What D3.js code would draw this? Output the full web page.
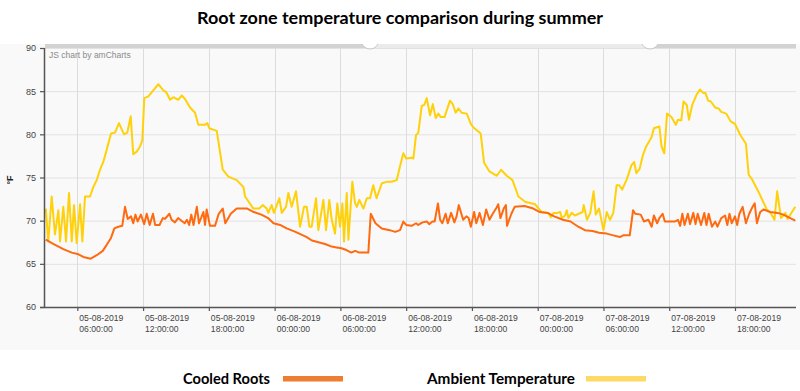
<!DOCTYPE html>
<html>
<head>
<meta charset="utf-8">
<script src="https://cdn.jsdelivr.net/npm/d3@7/dist/d3.min.js"></script>
<style>
  html, body { margin: 0; padding: 0; background: #ffffff; }
  svg { display: block; }
</style>
</head>
<body>
<svg id="chart" width="800" height="391"></svg>
<script>
// ---------------- DATA ----------------
const chartTitle = "Root zone temperature comparison during summer";
const yAxisTitle = "°F";
const seriesNames = ["Cooled Roots", "Ambient Temperature"];
const yTicks = [60, 65, 70, 75, 80, 85, 90];
const xTickDates = ["2019-08-05T06:00", "2019-08-05T12:00", "2019-08-05T18:00",
  "2019-08-06T00:00", "2019-08-06T06:00", "2019-08-06T12:00", "2019-08-06T18:00",
  "2019-08-07T00:00", "2019-08-07T06:00", "2019-08-07T12:00", "2019-08-07T18:00"];
const xDomain = ["2019-08-05T03:03", "2019-08-07T23:34"];
const baseDate = "2019-08-05T00:00";

// hours since 05-08-2019 00:00
const ambientHours = [3.12,3.35,3.66,3.96,4.27,4.42,4.72,4.97,5.24,5.49,5.70,5.94,6.25,6.46,6.70,7.16,7.46,7.77,8.07,8.37,
  8.68,9.07,9.44,9.80,10.26,10.56,10.87,11.10,11.42,11.72,11.93,12.11,12.48,12.93,13.39,13.85,14.10,14.46,14.77,15.20,
  15.53,15.83,16.28,16.74,17.04,17.65,17.86,18.04,18.72,19.27,19.78,20.54,21.15,21.30,22.06,22.60,22.92,23.28,23.43,23.73,
  23.94,24.43,24.65,25.04,25.25,25.56,25.95,26.32,26.68,26.93,27.17,27.38,27.78,27.99,28.20,28.45,28.69,28.99,29.21,29.51,
  29.72,29.97,30.18,30.33,30.58,30.73,31.09,31.34,31.50,31.73,32.10,32.41,32.70,33.00,33.30,33.77,34.20,34.66,35.14,35.44,
  35.74,35.99,36.51,36.66,36.90,37.11,37.42,37.65,37.88,38.18,38.43,38.70,38.94,39.16,39.50,40.00,40.25,40.52,40.76,41.06,
  41.53,41.90,42.14,42.80,43.11,43.60,44.27,44.66,45.18,45.70,46.24,46.85,47.76,48.37,48.98,49.20,49.45,49.80,50.06,50.20,
  50.50,50.65,50.80,51.10,51.40,51.75,52.10,52.20,52.50,52.80,53.10,53.30,53.60,54.00,54.30,54.60,54.90,55.20,55.45,55.70,
  56.10,56.55,56.80,57.00,57.30,57.60,57.90,58.40,58.60,59.10,59.30,59.55,59.80,60.20,60.60,60.80,61.10,61.30,61.60,61.80,
  62.10,62.50,62.80,63.10,63.30,63.55,63.80,64.20,64.50,64.75,65.20,65.60,66.00,66.50,67.00,67.25,67.55,68.20,68.90,69.20,
  69.60,69.85,70.20,70.60,70.80,71.50];
const ambientTemps = [71.4,67.6,72.8,68.4,71.2,67.6,71.6,67.6,73.2,67.6,71.8,67.4,71.9,67.6,72.8,72.8,73.9,74.7,75.9,76.8,
  78.2,80.1,80.2,81.3,80.0,80.2,82.1,77.7,78.0,78.6,79.3,84.2,84.4,85.1,85.8,85.1,84.9,84.0,84.3,84.0,
  84.5,84.1,83.1,82.5,81.1,81.1,81.3,80.7,80.4,75.9,75.1,74.7,73.9,72.8,71.4,71.4,71.8,71.4,70.9,71.8,
  70.9,72.6,70.9,71.6,73.2,71.6,73.4,69.3,71.6,71.6,69.3,69.3,72.6,68.9,70.5,72.4,68.9,72.4,70.1,68.5,
  72.0,69.3,72.0,67.6,73.2,67.8,74.5,72.0,71.6,72.4,71.4,72.6,72.6,74.1,72.6,74.3,74.5,74.5,74.7,76.3,
  77.8,77.2,77.3,77.2,79.9,80.2,83.3,83.4,84.2,82.2,83.5,81.9,82.4,82.0,82.0,83.9,83.5,82.5,83.0,82.5,
  82.4,81.2,80.8,80.1,76.7,75.7,75.2,75.9,75.2,74.7,72.8,72.2,71.9,71.0,70.9,70.4,70.9,70.9,71.0,70.3,
  70.6,71.2,70.3,70.9,70.6,70.8,71.0,71.8,70.1,70.9,73.4,70.7,71.4,68.9,71.0,70.1,70.9,74.1,74.1,73.6,
  74.7,76.4,76.8,75.5,76.0,77.6,78.6,79.7,80.7,80.9,78.6,77.8,82.4,82.0,81.1,81.7,81.6,83.8,83.4,81.7,
  83.4,84.6,85.2,84.8,84.8,83.9,83.8,83.1,83.0,82.6,82.4,81.5,81.2,79.9,78.9,75.3,74.8,73.2,71.3,71.0,
  70.1,73.4,70.3,70.9,70.2,71.6];

const cooledHours = [3.12,3.80,4.72,5.49,6.10,6.55,7.22,7.77,8.32,8.68,9.07,9.38,9.74,10.10,10.35,10.60,10.90,11.10,11.30,11.50,
  11.80,12.10,12.33,12.60,12.90,13.10,13.50,13.80,14.00,14.40,14.60,14.90,15.20,15.50,15.80,16.00,16.20,16.40,16.60,16.90,
  17.10,17.50,17.65,17.80,18.10,18.56,18.90,19.27,19.50,20.00,20.54,21.50,22.10,22.80,23.40,23.90,24.50,25.10,25.90,26.93,
  27.40,28.00,28.60,29.20,29.65,30.10,30.55,31.00,31.35,31.73,32.55,32.77,33.20,33.77,34.50,35.00,35.44,35.74,36.00,36.50,
  36.90,37.10,37.50,37.90,38.10,38.40,38.60,38.90,39.10,39.30,39.60,39.80,40.10,40.40,40.60,40.80,41.20,41.50,41.70,41.90,
  42.20,42.40,42.70,43.00,43.30,43.60,43.90,44.20,44.40,44.60,44.90,45.10,45.20,45.60,45.90,46.80,47.60,48.20,48.90,49.50,
  50.30,51.00,51.70,52.30,53.00,53.60,54.30,54.90,55.50,55.80,56.40,56.70,56.90,57.40,57.70,58.10,58.40,58.60,58.90,59.10,
  59.40,59.60,60.50,60.80,61.00,61.20,61.40,61.70,61.90,62.20,62.40,62.60,62.90,63.20,63.40,63.60,63.90,64.20,64.40,64.75,
  65.10,65.30,65.50,65.70,66.00,66.20,66.40,66.70,67.00,67.30,67.60,67.80,68.00,68.30,68.60,69.20,69.90,70.40,71.50];
const cooledTemps = [67.8,67.3,66.7,66.3,66.1,65.8,65.6,66.0,66.5,67.2,68.0,69.1,69.3,69.4,71.6,70.2,70.5,69.7,70.7,69.9,
  70.7,69.6,70.8,69.5,70.8,69.5,69.5,70.3,70.2,70.8,70.1,69.8,70.3,70.0,69.7,70.1,69.5,70.7,69.5,71.6,
  69.7,71.0,69.5,71.3,69.4,69.4,70.8,71.4,69.7,70.8,71.4,71.4,71.0,70.7,70.3,69.7,69.5,69.1,68.7,68.1,
  67.7,67.5,67.3,67.0,66.9,66.8,66.6,66.3,66.5,66.3,66.3,70.8,69.7,69.1,68.9,68.7,68.9,69.9,69.5,69.4,
  69.7,69.5,69.8,69.9,69.6,69.9,69.9,72.0,70.1,69.7,70.8,69.7,70.9,69.8,70.5,71.8,70.1,70.5,70.3,69.3,
  71.0,69.7,70.9,69.5,71.3,70.1,70.8,71.4,71.9,70.3,71.4,71.8,69.4,70.8,71.6,71.7,71.4,71.0,70.9,70.5,
  70.1,69.9,69.3,68.9,68.8,68.6,68.5,68.3,68.1,68.3,68.3,71.2,70.8,70.7,69.9,70.1,69.3,70.6,69.7,70.3,
  70.8,69.9,69.9,70.1,69.4,70.8,69.5,70.8,69.6,70.9,69.6,70.8,69.5,70.9,69.5,70.8,69.3,69.9,69.3,70.3,
  70.6,69.5,70.8,69.7,70.5,69.5,70.8,71.6,69.7,70.8,71.6,72.0,69.7,71.0,71.3,71.0,70.9,70.7,70.0];

// ---------------- CHART ----------------
const svg = d3.select("#chart");
const W = 800, H = 391;
const plot = { left: 45, right: 796, top: 48, bottom: 307 };

const parse = d3.timeParse("%Y-%m-%dT%H:%M");
const base = parse(baseDate).getTime();
const toDate = h => new Date(base + h * 3600000);

const x = d3.scaleTime().domain(xDomain.map(parse)).range([plot.left, plot.right]);
const y = d3.scaleLinear().domain([d3.min(yTicks), d3.max(yTicks)]).range([plot.bottom, plot.top]);

// backgrounds
svg.append("rect").attr("x", 0).attr("y", 0).attr("width", W).attr("height", H).attr("fill", "#ffffff");
svg.append("rect").attr("x", 0).attr("y", 44).attr("width", W).attr("height", 306).attr("fill", "#f9f9f9");

// title
svg.append("text")
  .attr("x", 400).attr("y", 24)
  .attr("text-anchor", "middle")
  .attr("font-family", "Lato, 'Open Sans', sans-serif")
  .attr("font-weight", "bold")
  .attr("font-size", 17)
  .attr("textLength", 406).attr("lengthAdjust", "spacingAndGlyphs")
  .attr("fill", "#000")
  .text(chartTitle);

// grid
const grid = svg.append("g");
grid.selectAll("line.h").data(yTicks.slice(1)).enter().append("line")
  .attr("x1", plot.left).attr("x2", plot.right)
  .attr("y1", d => y(d) + 0.5).attr("y2", d => y(d) + 0.5)
  .attr("stroke", "#e2e2e2").attr("stroke-width", 1);
grid.selectAll("line.v").data(xTickDates.map(parse)).enter().append("line")
  .attr("x1", d => Math.round(x(d)) + 0.5).attr("x2", d => Math.round(x(d)) + 0.5)
  .attr("y1", plot.top).attr("y2", plot.bottom)
  .attr("stroke", "#dcdcdc").attr("stroke-width", 1);

// scrollbar band on top
const grips = [370, 650];
svg.append("rect").attr("x", plot.left).attr("y", 44).attr("width", plot.right - plot.left).attr("height", 4).attr("fill", "#d2d2d2");
svg.append("rect").attr("x", grips[0]).attr("y", 44).attr("width", grips[1] - grips[0]).attr("height", 4).attr("fill", "#ebebeb");
svg.append("clipPath").attr("id", "gripClip").append("rect").attr("x", 0).attr("y", 44).attr("width", W).attr("height", 20);
svg.append("g").attr("clip-path", "url(#gripClip)")
  .selectAll("circle").data(grips).enter().append("circle")
  .attr("cx", d => d).attr("cy", 40).attr("r", 9)
  .attr("fill", "#ffffff").attr("stroke", "#c8c8c8").attr("stroke-width", 1);

// watermark
svg.append("text").attr("x", 49).attr("y", 58)
  .attr("font-family", "Arial, 'Liberation Sans', sans-serif").attr("font-size", 8.5)
  .attr("fill", "#8a8a8a").text("JS chart by amCharts");

// lines
svg.append("clipPath").attr("id", "plotClip").append("rect")
  .attr("x", plot.left).attr("y", plot.top).attr("width", plot.right - plot.left).attr("height", plot.bottom - plot.top);

const line = d3.line().x(d => x(d[0])).y(d => y(d[1]));
const ambient = ambientHours.map((h, i) => [toDate(h), ambientTemps[i]]);
const cooled = cooledHours.map((h, i) => [toDate(h), cooledTemps[i]]);

const lines = svg.append("g").attr("clip-path", "url(#plotClip)");
lines.append("path").datum(ambient).attr("d", line)
  .attr("fill", "none").attr("stroke", "#ffd10a").attr("stroke-width", 2).attr("stroke-linejoin", "round");
lines.append("path").datum(cooled).attr("d", line)
  .attr("fill", "none").attr("stroke", "#ff6a10").attr("stroke-width", 2).attr("stroke-linejoin", "round");

// axes
const yAxis = svg.append("g").attr("transform", `translate(${plot.left},0)`)
  .call(d3.axisLeft(y).tickValues(yTicks).tickSize(5).tickPadding(4));
const xAxis = svg.append("g").attr("transform", `translate(0,${plot.bottom})`)
  .call(d3.axisBottom(x).tickValues(xTickDates.map(parse)).tickSize(4).tickFormat(""));
[yAxis, xAxis].forEach(g => {
  g.select(".domain").attr("stroke", "#555").attr("stroke-width", 1.5);
  g.selectAll(".tick line").attr("stroke", "#555").attr("stroke-width", 1.2);
});
yAxis.select(".domain").attr("d", `M-0.5,${plot.top}V${plot.bottom}`);
xAxis.select(".domain").attr("d", `M${plot.left - 5},0.5H${plot.right}`);
yAxis.selectAll(".tick text").attr("font-family", "Arial, 'Liberation Sans', sans-serif")
  .attr("font-size", 9).attr("fill", "#444");

const fmtD = d3.timeFormat("%d-%m-%Y"), fmtT = d3.timeFormat("%H:%M:%S");
const xl = svg.append("g").selectAll("text").data(xTickDates.map(parse)).enter().append("text")
  .attr("x", d => x(d) + 2).attr("y", 321)
  .attr("font-family", "Arial, 'Liberation Sans', sans-serif").attr("font-size", 8.6).attr("fill", "#444");
xl.append("tspan").attr("x", d => x(d) + 2).attr("dy", 0).text(d => fmtD(d));
xl.append("tspan").attr("x", d => x(d) + 2).attr("dy", 10.5).text(d => fmtT(d));

// y axis title
svg.append("text").attr("transform", "translate(13,180) rotate(-90)")
  .attr("text-anchor", "middle").attr("font-family", "Arial, 'Liberation Sans', sans-serif")
  .attr("font-size", 9).attr("font-weight", "bold").attr("fill", "#222").text(yAxisTitle);

// legend
const legend = [
  { name: seriesNames[0], tx: 183, tw: 87, bx: 283, color: "#ed7d31" },
  { name: seriesNames[1], tx: 427, tw: 148, bx: 586, color: "#ffd966" }
];
const lg = svg.append("g").selectAll("g").data(legend).enter().append("g");
lg.append("text").attr("x", d => d.tx).attr("y", 384)
  .attr("font-family", "Lato, 'Open Sans', sans-serif").attr("font-weight", "bold").attr("font-size", 15)
  .attr("textLength", d => d.tw).attr("lengthAdjust", "spacingAndGlyphs")
  .attr("fill", "#000").text(d => d.name);
lg.append("rect").attr("x", d => d.bx).attr("y", 376).attr("width", 60).attr("height", 5.5).attr("fill", d => d.color);
</script>
</body>
</html>
